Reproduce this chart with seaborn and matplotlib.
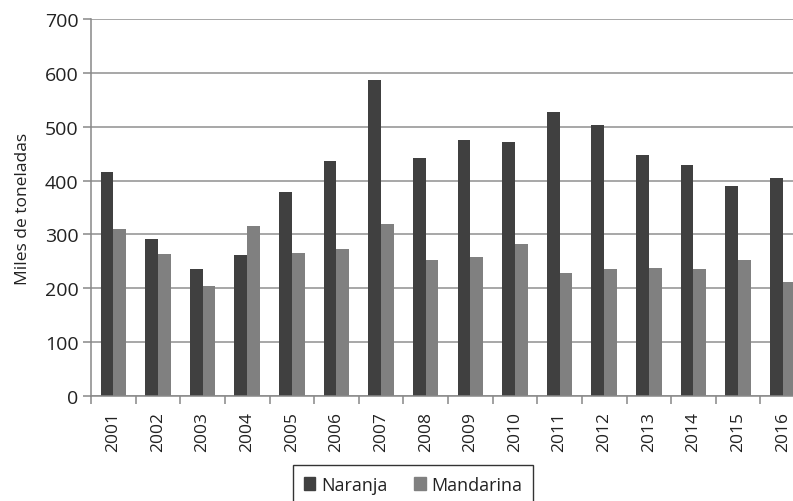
import matplotlib
matplotlib.use("Agg")
from matplotlib import pyplot as plt
import matplotlib.ticker as ticker
import numpy as np
import pandas as pd
import seaborn as sns

years = ['2001', '2002', '2003', '2004', '2005', '2006', '2007', '2008',
         '2009', '2010', '2011', '2012', '2013', '2014', '2015', '2016']
naranja = [416, 292, 235, 261, 378, 436, 586, 442,
           476, 471, 528, 504, 447, 428, 390, 404]
mandarina = [311, 263, 204, 316, 266, 273, 320, 252,
             259, 282, 228, 235, 237, 235, 252, 211]
series = ['Naranja', 'Mandarina']
colors = ['#404040', '#808080']


def plot():
    df = pd.DataFrame({
        'Año': years * 2,
        'Valor': naranja + mandarina,
        'Serie': [series[0]] * len(years) + [series[1]] * len(years),
    })

    sns.set_style('white')
    plt.rcParams['font.family'] = ['Open Sans', 'DejaVu Sans']

    fig = plt.figure(figsize=(7.93, 5.02), dpi=100)
    ax = fig.add_axes([91 / 793, 105 / 502, 714 / 793, 377 / 502])

    sns.barplot(data=df, x='Año', y='Valor', hue='Serie', order=years,
                hue_order=series, palette=colors, width=0.57,
                saturation=1, errorbar=None, ax=ax, legend=False)
    for p in ax.patches:
        p.set_linewidth(0)

    ax.set_xlim(-0.5, len(years) - 0.5)
    ax.set_ylim(0, 700)
    ax.yaxis.set_major_locator(ticker.MultipleLocator(100))
    ax.grid(axis='y', color='#8f8f8f', linewidth=1.1)
    ax.set_axisbelow(True)

    for s in ['top', 'right']:
        ax.spines[s].set_visible(False)
    for s in ['left', 'bottom']:
        ax.spines[s].set_visible(True)
        ax.spines[s].set_color('#888888')
        ax.spines[s].set_linewidth(1.1)

    ax.tick_params(axis='y', which='major', length=6, width=1.1,
                   color='#888888', labelsize=14, pad=3, left=True,
                   labelcolor='#222222')
    ax.set_yticklabels([str(int(v)) for v in ax.get_yticks()])

    ax.xaxis.set_minor_locator(ticker.FixedLocator(np.arange(-0.5, len(years), 1)))
    ax.tick_params(axis='x', which='minor', length=6, width=1.1,
                   color='#888888', bottom=True)
    ax.tick_params(axis='x', which='major', length=0, labelsize=12.5, pad=11,
                   labelcolor='#222222')
    plt.setp(ax.get_xticklabels(), rotation=90)

    ax.set_xlabel('')
    ax.set_ylabel('Miles de toneladas', fontsize=12.5, labelpad=10,
                  color='#222222')

    handles = [plt.Rectangle((0, 0), 1, 1, color=c) for c in colors]
    leg = fig.legend(handles, series, loc='upper center',
                     bbox_to_anchor=(413 / 793, 1 - 466 / 502), ncol=2,
                     frameon=True, fancybox=False, fontsize=13,
                     handlelength=0.65, handleheight=0.65, handletextpad=0.3,
                     columnspacing=1.5, borderpad=0.6, borderaxespad=0,
                     labelcolor='#222222')
    leg.get_frame().set_edgecolor('black')
    leg.get_frame().set_linewidth(1)

    plt.savefig('out.png', dpi=100)


def main():
    plot()


if __name__ == "__main__":
    main()
